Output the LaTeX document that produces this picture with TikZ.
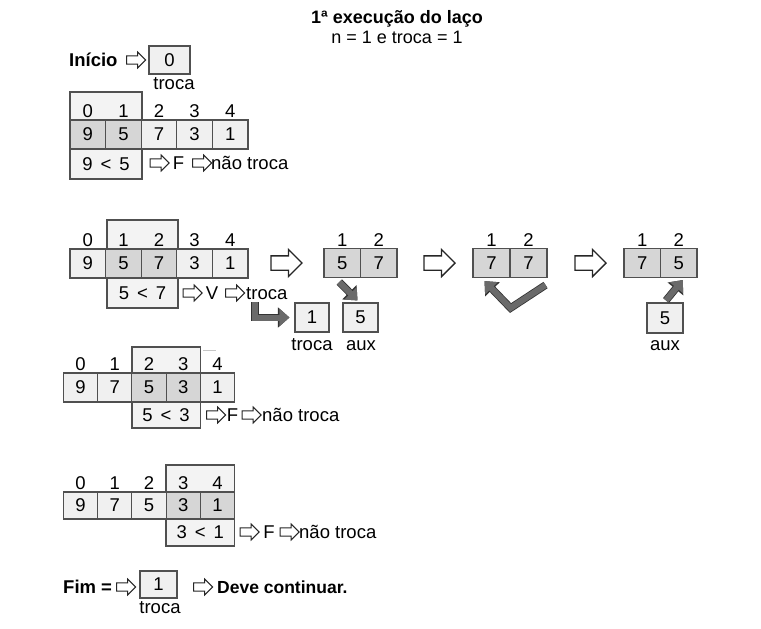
\documentclass[tikz,border=0pt]{standalone}
\usepackage{fontspec}
\setmainfont{Liberation Sans}
\usetikzlibrary{shapes.arrows,arrows.meta,calc}
\definecolor{lineC}{HTML}{505050}
\definecolor{cellC}{HTML}{F0F0F0}
\definecolor{hiC}{HTML}{D6D6D6}
\definecolor{frameC}{HTML}{F3F3F3}
\definecolor{darkA}{HTML}{6A6A6A}
\newcommand{\lt}{\hspace{8pt}<\hspace{8pt}}
\begin{document}
\begin{tikzpicture}[x=1pt,y=-1pt,
  every node/.style={font=\fontsize{18.5}{21}\selectfont},
  cell/.style={draw=lineC, line width=1.1pt, fill=cellC, minimum width=35.6pt, minimum height=29pt, inner sep=0pt, anchor=center},
  ncell/.style={cell, minimum width=34.2pt},
  frame/.style={draw=lineC, line width=1.4pt, fill=frameC, inner sep=0pt},
  idx/.style={anchor=base, inner sep=0pt},
  txt/.style={anchor=base west, inner sep=0pt},
  ctxt/.style={anchor=base, inner sep=0pt},
  mid/.style={anchor=center, inner sep=0pt},
  harrow/.style={single arrow, draw=black!85, fill=white, line width=1pt, inner xsep=0pt, inner ysep=3.7pt, minimum height=19pt, single arrow head extend=3.8pt},
  bigarrow/.style={harrow, line width=1.3pt, inner ysep=6.5pt, minimum height=31pt, single arrow head extend=6.5pt},
  darr/.style={draw=darkA, line width=6pt, line join=miter, -{Triangle[length=10pt,width=17pt]},
     preaction={draw=black!80, line width=7.6pt, -{Triangle[length=11.5pt,width=19.5pt]}}}
]
\useasboundingbox (0,0) rectangle (761,629);

% title
\node[ctxt, font=\fontsize{18}{21}\selectfont] (title) at (397,23.5) {\textbf{1ª execução do laço}};
\node[ctxt, font=\fontsize{18}{21}\selectfont] (sub) at (397,43.5) {n = 1 e troca = 1};

% inicio
\node[txt] (ini) at (69,66.5) {\textbf{Início}};
\node[harrow] (h0) at (134,60) {};
\node[cell, minimum width=41pt, minimum height=28pt] (b0) at (169.5,60) {0};
\node[ctxt] (tr0) at (174,89) {troca};

% ---------- array 1
\node[frame, minimum width=72pt, minimum height=87pt] (f1) at (106,135.5) {};
\foreach \v/\c [count=\i from 0] in {9/hiC,5/hiC,7/cellC,3/cellC,1/cellC}
  \node[cell, fill=\c] (a\i) at ({70+35.6*(\i+0.5)},134.5) {\v};
\foreach \i in {0,...,4}
  \node[idx] (la\i) at ({70+35.6*(\i+0.5)},117.5) {\i};
\node[mid] (cmp1) at (106,164) {9\lt5};
\node[harrow] (h11) at (157.5,163) {};
\node[mid] (F1) at (178.5,163) {F};
\node[harrow] (h12) at (200,163) {};
\node[txt] (nt1) at (211,169.5) {não troca};

% ---------- array 2
\node[frame, minimum width=71pt, minimum height=88pt] (f2) at (142.5,264) {};
\foreach \v/\c [count=\i from 0] in {9/cellC,5/hiC,7/hiC,3/cellC,1/cellC}
  \node[cell, fill=\c] (b\i) at ({70+35.6*(\i+0.5)},263.5) {\v};
\foreach \i in {0,...,4}
  \node[idx] (lb\i) at ({70+35.6*(\i+0.5)},246.5) {\i};
\node[mid] (cmp2) at (142.5,293) {5\lt7};
\node[harrow] (h21) at (190.5,293) {};
\node[mid] (V2) at (212,293) {V};
\node[harrow] (h22) at (233,293) {};
\node[txt] (tr2) at (246,299.5) {troca};

\node[bigarrow] (B1) at (283,263) {};
\node[cell, fill=hiC, minimum width=36.5pt] (s1a) at (342.25,263) {5};
\node[cell, fill=hiC, minimum width=36.5pt] (s1b) at (378.75,263) {7};
\node[idx] (ls1a) at (342.25,246.5) {1};
\node[idx] (ls1b) at (378.75,246.5) {2};

\node[cell, minimum width=34pt] (tb1) at (312,317.5) {1};
\node[ctxt] (ttb1) at (312,350) {troca};
\node[cell, minimum width=35pt] (ab1) at (360.5,317.5) {5};
\node[ctxt] (tab1) at (361,350) {aux};

\node[bigarrow] (B2) at (436,263) {};
\node[cell, fill=hiC, minimum width=37pt] (s2a) at (491.5,263) {7};
\node[cell, fill=hiC, minimum width=37pt] (s2b) at (528.5,263) {7};
\node[idx] (ls2a) at (491.5,246.5) {1};
\node[idx] (ls2b) at (528.5,246.5) {2};

\node[bigarrow] (B3) at (587,263) {};
\node[cell, fill=hiC, minimum width=36.5pt] (s3a) at (642.25,263) {7};
\node[cell, fill=hiC, minimum width=36.5pt] (s3b) at (678.75,263) {5};
\node[idx] (ls3a) at (642.25,246.5) {1};
\node[idx] (ls3b) at (678.75,246.5) {2};

\node[cell, minimum width=36pt, minimum height=30pt] (ab2) at (665,318) {5};
\node[ctxt] (tab2) at (665,350) {aux};

\coordinate (lst) at (255,302);
\draw[darr, shorten >=5pt] (lst) |- (tb1.west);
\draw[darr] ($(s1a.south)+(-3,4)$) -- ($(ab1.north)+(-3,-2)$);
\draw[darr] ($(s2b.south east)+(-2,7)$) -- ($(s2a.south east)+(0,30)$) -- ($(s2a.south)+(-7,3)$);
\draw[darr] ($(ab2.north)+(1,-2)$) -- ($(s3b.south)+(4,2)$);

% ---------- array 3
\node[frame, minimum width=68.4pt, minimum height=81pt] (f3) at (166.1,387.5) {};
\foreach \v/\c [count=\i from 0] in {9/cellC,7/cellC,5/hiC,3/hiC,1/cellC}
  \node[ncell, fill=\c] (c\i) at ({63.5+34.2*(\i+0.5)},387.5) {\v};
\foreach \i in {0,...,4}
  \node[idx] (lc\i) at ({63.5+34.2*(\i+0.5)},370.5) {\i};
\node[mid] (cmp3) at (166.1,415) {5\lt3};
\node[harrow] (h31) at (214,415) {};
\node[mid] (F3) at (232.5,415) {F};
\node[harrow] (h32) at (249.5,415) {};
\node[txt] (nt3) at (262,421.5) {não troca};
\draw[gray!45, line width=1pt] ($(f3.north east)+(2,4)$) -- +(13,0);

% ---------- array 4
\node[frame, minimum width=68.4pt, minimum height=81pt] (f4) at (200.3,505.5) {};
\foreach \v/\c [count=\i from 0] in {9/cellC,7/cellC,5/cellC,3/hiC,1/hiC}
  \node[ncell, fill=\c, minimum height=27pt] (d\i) at ({63.5+34.2*(\i+0.5)},505.5) {\v};
\foreach \i in {0,...,4}
  \node[idx] (ld\i) at ({63.5+34.2*(\i+0.5)},489.5) {\i};
\node[mid] (cmp4) at (200.3,532.5) {3\lt1};
\node[harrow] (h41) at (247.5,532) {};
\node[mid] (F4) at (269,532) {F};
\node[harrow] (h42) at (287.5,532) {};
\node[txt] (nt4) at (299,538.5) {não troca};

% ---------- fim
\node[txt] (fim) at (63,593.5) {\textbf{Fim =}};
\node[harrow] (h51) at (124,587) {};
\node[cell, minimum width=37pt, minimum height=27pt] (b5) at (158.5,584.5) {1};
\node[ctxt] (tr5) at (160,613) {troca};
\node[harrow] (h52) at (201,587) {};
\node[txt, font=\fontsize{17.5}{21}\selectfont] (dev) at (217,593.5) {\textbf{Deve continuar.}};
\end{tikzpicture}
\end{document}
